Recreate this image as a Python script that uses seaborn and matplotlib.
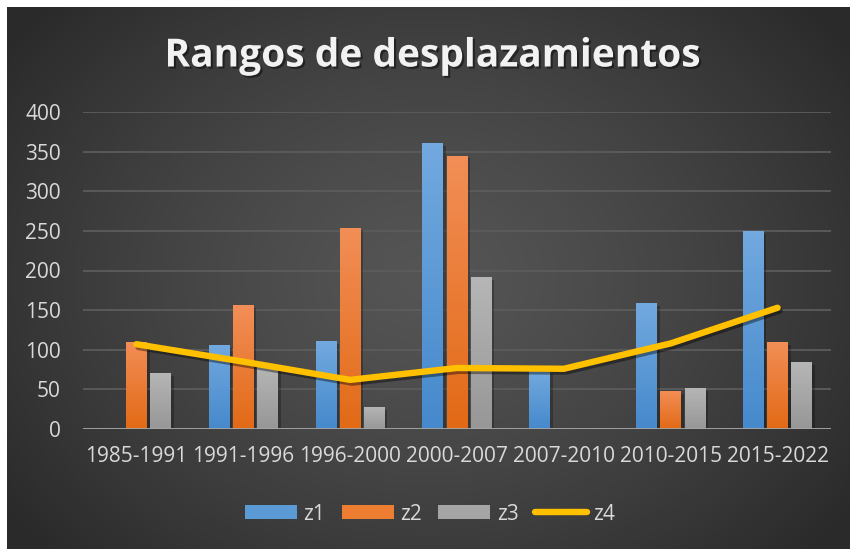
import numpy as np
import pandas as pd
import matplotlib
matplotlib.use("Agg")
import matplotlib.pyplot as plt
import matplotlib.patheffects as pe
from matplotlib.colors import LinearSegmentedColormap
from matplotlib.patches import Patch
from matplotlib.lines import Line2D
import seaborn as sns

# Data
periods = ["1985-1991", "1991-1996", "1996-2000", "2000-2007",
           "2007-2010", "2010-2015", "2015-2022"]
z1 = [0, 106, 111, 361, 73, 159, 250]
z2 = [110, 156, 254, 345, 0, 48, 110]
z3 = [71, 80, 28, 192, 0, 52, 84]
z4 = [107, 85, 62, 77, 76, 108, 153]
series = ["z1", "z2", "z3"]
y_ticks = [0, 50, 100, 150, 200, 250, 300, 350, 400]
title = "Rangos de desplazamientos"

# Colour scheme: flat colours plus top/bottom gradient stops
bar_colors = {"z1": "#5b9bd5", "z2": "#ed7d31", "z3": "#a5a5a5"}
grad_stops = {"z1": ("#72a9df", "#4689cc"),
              "z2": ("#f28e57", "#e26a16"),
              "z3": ("#b6b6b6", "#979797")}
line_color = "#ffc000"
text_color = "#d9d9d9"

sns.set_theme(style="dark")
plt.rcParams["font.family"] = ["Open Sans", "DejaVu Sans"]

W, H = 850, 549
fig = plt.figure(figsize=(W / 100, H / 100), dpi=100)
fig.patch.set_facecolor("white")

# Dark radial-gradient backdrop
bg = fig.add_axes([7 / W, 0, (W - 7) / W, (H - 7) / H])
bg.set_axis_off()
gy, gx = np.mgrid[0:1:400j, 0:1:600j]
r = np.sqrt(((gx - 0.50) / 0.62) ** 2 + ((gy - 0.50) / 0.75) ** 2)
r = np.clip(r, 0, 1)
c_in = np.array([0x55, 0x55, 0x55]) / 255
c_out = np.array([0x2a, 0x2a, 0x2a]) / 255
img = c_in[None, None, :] * (1 - r[..., None] ** 1.3) + c_out[None, None, :] * (r[..., None] ** 1.3)
bg.imshow(img, extent=[0, 1, 0, 1], aspect="auto", origin="lower")
bg.set_xlim(0, 1)
bg.set_ylim(0, 1)

# Plot area
left, right, top, bottom = 83, 831, 112, 429
ax = fig.add_axes([left / W, (H - bottom) / H, (right - left) / W, (bottom - top) / H])
ax.set_facecolor("none")

df = pd.DataFrame({
    "periodo": periods * 3,
    "serie": sum([[s] * len(periods) for s in series], []),
    "valor": z1 + z2 + z3,
})
sns.barplot(data=df, x="periodo", y="valor", hue="serie", order=periods,
            hue_order=series, palette=bar_colors, width=0.68, gap=0.15,
            saturation=1, legend=False, ax=ax, zorder=2,
            linewidth=0, edgecolor="none")

# Vertical gradient fill on each bar, clipped to the bar shape
n = len(periods)
for i, patch in enumerate(ax.patches[: 3 * n]):
    s = series[i // n]
    x0, w = patch.get_x(), patch.get_width()
    h = patch.get_height()
    patch.set_edgecolor("none")
    patch.set_linewidth(0)
    if h <= 0:
        continue
    cmap = LinearSegmentedColormap.from_list(s, [grad_stops[s][1], grad_stops[s][0]])
    grad = np.linspace(0, 1, 64)[:, None]
    im = ax.imshow(grad, cmap=cmap, extent=[x0, x0 + w, 0, h], aspect="auto",
                   origin="lower", zorder=2.5)
    im.set_clip_path(patch)
    patch.set_path_effects([pe.SimplePatchShadow(offset=(2, -2), alpha=0.25,
                                                 shadow_rgbFace="black"), pe.Normal()])

sns.lineplot(x=np.arange(n), y=z4, color=line_color, linewidth=4.6, ax=ax,
             zorder=4, sort=False)
for ln in ax.lines:
    ln.set_solid_capstyle("round")
    ln.set_solid_joinstyle("round")
    ln.set_path_effects([pe.SimpleLineShadow(offset=(1.5, -2), alpha=0.4,
                                             shadow_color="black"), pe.Normal()])

ax.set_xlim(-0.5, n - 0.5)
ax.set_ylim(0, 400)
ax.set_yticks(y_ticks)
ax.set_xticks(range(n))
ax.set_xticklabels(periods)
ax.set_xlabel("")
ax.set_ylabel("")
ax.grid(axis="y", color="#5c5c5c", linewidth=1.3, zorder=0)
ax.grid(axis="x", visible=False)
ax.set_axisbelow(True)
ax.axhline(0, color="#a6a6a6", linewidth=2.0, zorder=3)
for sp in ax.spines.values():
    sp.set_visible(False)
ax.tick_params(axis="y", length=0, pad=16, labelsize=15, labelcolor=text_color)
ax.tick_params(axis="x", length=0, pad=12, labelsize=15, labelcolor=text_color)

# Title with soft drop shadow
fig.text(432 / W, 1 - 56 / H, title, ha="center", va="center", fontsize=28,
         fontweight="bold", color="#f2f2f2",
         path_effects=[pe.withSimplePatchShadow(offset=(1.5, -1.5), alpha=0.45,
                                                shadow_rgbFace="black")])

# Legend along the bottom
handles = [Patch(facecolor=bar_colors[s], edgecolor="none", label=s) for s in series]
handles.append(Line2D([0], [0], color=line_color, linewidth=4.6,
                      solid_capstyle="round", label="z4"))
fig.legend(handles=handles, loc="center", bbox_to_anchor=(430 / W, 1 - 514 / H),
           ncol=4, frameon=False, fontsize=15, labelcolor=text_color,
           handlelength=2.5, handleheight=0.68, handletextpad=0.3,
           columnspacing=0.8)

fig.savefig("out.png", dpi=100, facecolor=fig.get_facecolor())
